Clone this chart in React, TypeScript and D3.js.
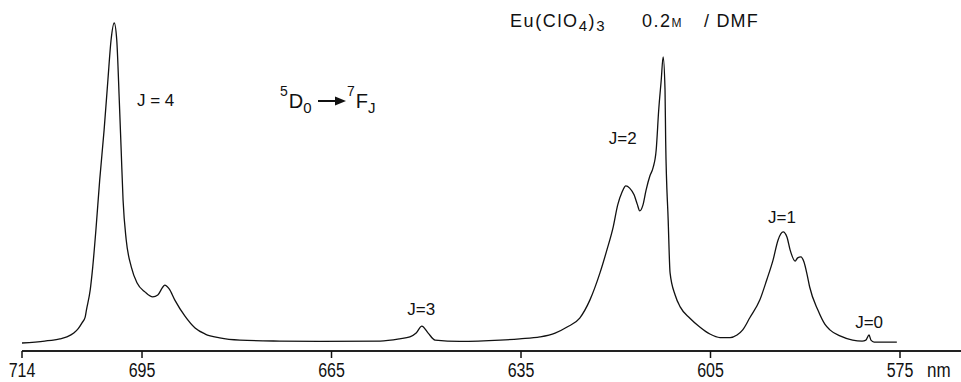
import React from 'react';
import * as d3 from 'd3';

// Emission spectrum of Eu(ClO4)3 0.2 M in DMF, 5D0 -> 7FJ
const wavelengths = [
  714.0, 710.4, 708.0, 706.9, 705.8, 705.1, 704.5, 704.0, 703.8, 703.2, 702.8, 702.3,
  701.7, 701.0, 700.4, 699.9, 699.4, 699.0, 698.6, 698.3, 698.0, 697.5, 696.7, 695.8,
  694.5, 693.3, 692.5, 691.8, 691.4, 690.7, 689.8, 688.2, 686.6, 685.0, 682.7, 679.5,
  673.2, 666.8, 657.3, 654.2, 652.6, 651.6, 650.7, 649.7, 648.6, 644.7, 638.3, 635.2,
  632.0, 629.6, 627.7, 625.7, 624.1, 622.5, 621.4, 620.4, 619.7, 619.0, 618.4, 617.8,
  617.1, 616.6, 616.2, 615.7, 615.2, 614.6, 614.1, 613.6, 613.2, 612.8, 612.5, 612.2,
  612.1, 611.7, 611.4, 610.6, 609.8, 608.3, 606.7, 605.1, 603.5, 601.9, 600.8, 599.9,
  598.8, 597.2, 596.1, 595.1, 594.3, 593.5, 592.9, 592.4, 591.6, 591.2, 590.7, 590.2,
  589.7, 589.3, 588.0, 586.9, 586.1, 584.5, 582.5, 581.0, 580.4, 579.9, 579.6, 579.1,
  575.5,
];
const intensities = [
  0, 0.6, 1.3, 1.9, 3.1, 4.5, 6.3, 8.1, 10.3, 16.6, 23.8, 35.3,
  50.9, 66.6, 82.2, 94.7, 100, 94.7, 75.9, 60.3, 44.7, 32.2, 23.8, 18.8,
  15.9, 14.4, 15.0, 17.2, 18.1, 16.9, 13.4, 8.4, 4.7, 2.8, 1.6, 0.9,
  0.6, 0.5, 0.6, 1.3, 1.9, 3.1, 5.3, 3.1, 0.9, 0.5, 0.9, 1.3,
  1.9, 3.1, 5.0, 7.8, 13.4, 21.9, 29.1, 36.3, 43.1, 47.2, 49.1, 48.4,
  46.3, 43.4, 41.3, 43.1, 47.8, 52.2, 54.7, 60.3, 72.8, 82.2, 89.4, 79.1,
  63.4, 38.4, 21.9, 15.0, 11.3, 7.8, 5.0, 2.8, 1.7, 1.7, 2.5, 4.1,
  7.8, 13.4, 19.7, 25.9, 32.2, 34.7, 33.1, 29.1, 25.6, 26.6, 26.9, 25.3,
  21.3, 17.5, 10.3, 5.9, 4.1, 2.2, 0.9, 0.6, 0.9, 2.5, 0.9, 0.3,
  0.3,
];

const tickValues = [714, 695, 665, 635, 605, 575];
const tickLabels = ['714', '695', '665', '635', '605', '575'];
const unitLabel = 'nm';

const bandLabels = ['J = 4', 'J=3', 'J=2', 'J=1', 'J=0'];
const bandLabelNm = [695.8, 653.0, 621.1, 595.9, 582.1];
const bandLabelI = [74, 8.7, 62.2, 37.5, 4.7];

const W = 961;
const H = 382;

export default function App() {
  const x = d3.scaleLinear().domain([714, 575]).range([22, 900]);
  const y = d3.scaleLinear().domain([0, 100]).range([343, 23]);

  const pts: [number, number][] = wavelengths.map((w, i) => [w, intensities[i]]);
  const line = d3
    .line<[number, number]>()
    .x((d) => x(d[0]))
    .y((d) => y(d[1]))
    .curve(d3.curveMonotoneX);

  const axisY = 351;
  const font = "'Liberation Sans', Arial, sans-serif";

  return (
    <div style={{ position: 'absolute', left: 0, top: 0 }}>
      <svg width={W} height={H} viewBox={`0 0 ${W} ${H}`} style={{ display: 'block', background: '#fff' }}>
        <path d={line(pts) || ''} fill="none" stroke="#111" strokeWidth={1.3} strokeLinejoin="round" />

        {/* axis */}
        <line x1={x(714)} x2={W} y1={axisY} y2={axisY} stroke="#222" strokeWidth={2} />
        {tickValues.map((t, i) => (
          <g key={t}>
            <line x1={x(t)} x2={x(t)} y1={axisY} y2={axisY + 7} stroke="#111" strokeWidth={1.5} />
            <g transform={`translate(${x(t)},${377}) scale(0.8,1)`}>
              <text x={0} y={0} fontFamily={font} fontSize={20} fill="#111" textAnchor="middle">
                {tickLabels[i]}
              </text>
            </g>
          </g>
        ))}
        <g transform={`translate(${x(575) + 27},${377}) scale(0.85,1)`}>
          <text x={0} y={0} fontFamily={font} fontSize={20} fill="#111">
            {unitLabel}
          </text>
        </g>

        {/* band labels */}
        {bandLabels.map((lb, i) => (
          <text key={lb} x={x(bandLabelNm[i])} y={y(bandLabelI[i])} fontFamily={font} fontSize={17} fill="#111">
            {lb}
          </text>
        ))}

        {/* transition label */}
        <g fontFamily={font} fill="#111">
          <text x={280} y={108} fontSize={20}>
            <tspan fontSize={14} dy={-12}>5</tspan>
            <tspan dx={1} dy={12}>D</tspan>
            <tspan fontSize={15} dy={5}>0</tspan>
          </text>
          <line x1={318} x2={338} y1={101} y2={101} stroke="#111" strokeWidth={2} />
          <path d="M346,101 L335,96.5 L335,105.5 Z" fill="#111" />
          <text x={347} y={108} fontSize={20}>
            <tspan fontSize={14} dy={-12}>7</tspan>
            <tspan dx={1} dy={12}>F</tspan>
            <tspan fontSize={15} dy={5}>J</tspan>
          </text>
        </g>

        {/* title */}
        <g fontFamily={font} fill="#111">
          <text x={510} y={27} fontSize={18} letterSpacing={1.6}>
            Eu(ClO<tspan fontSize={15} dy={4}>4</tspan>
            <tspan dy={-4}>)</tspan>
            <tspan fontSize={15} dy={4}>3</tspan>
          </text>
          <text x={642} y={27} fontSize={18} letterSpacing={1.5}>
            0.2<tspan fontSize={12}>M</tspan>
          </text>
          <text x={704} y={27} fontSize={18} letterSpacing={1.2}>
            / DMF
          </text>
        </g>
      </svg>
    </div>
  );
}
